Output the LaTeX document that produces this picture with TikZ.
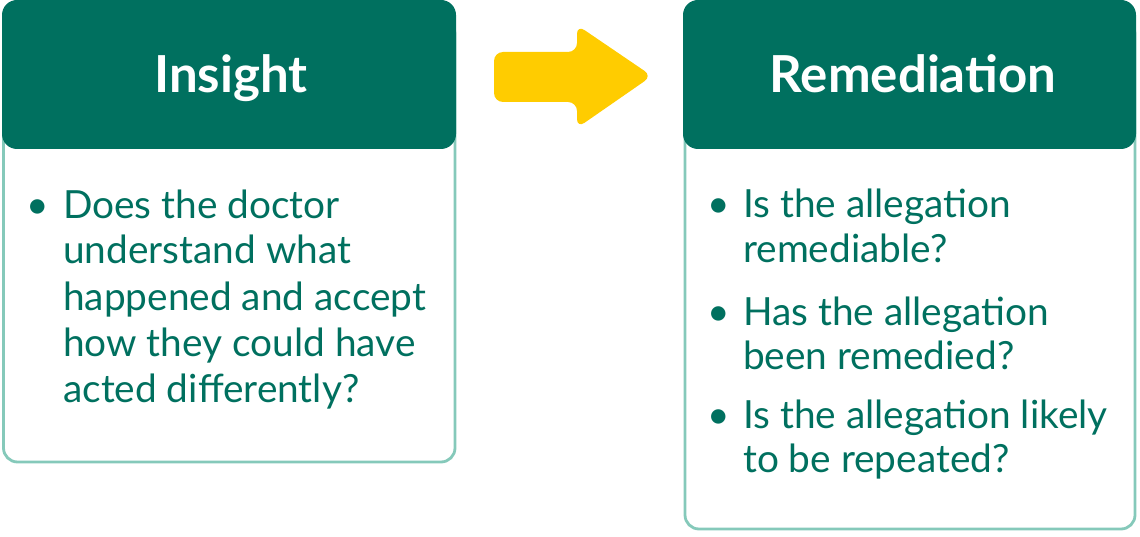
\documentclass[tikz,border=0pt]{standalone}
\usepackage{fontspec}
\setmainfont{Lato}
\definecolor{teal}{HTML}{00705F}
\definecolor{lteal}{HTML}{85C9BA}
\definecolor{amber}{HTML}{FFCC00}
\begin{document}
\begin{tikzpicture}[x=1pt,y=-1pt,
  outline/.style={draw=lteal,line width=2.8pt,rounded corners=14pt},
  header/.style={fill=teal,rounded corners=15pt},
  title/.style={text=white,font=\fontsize{51}{60}\selectfont\bfseries,inner sep=0pt,anchor=base},
  line/.style={text=teal,font=\fontsize{38.8}{46}\selectfont,inner sep=0pt,anchor=base west},
  bul/.style={text=teal,font=\fontsize{38.8}{46}\selectfont,inner sep=0pt,anchor=base}]
\useasboundingbox (0,0) rectangle (1140,537);
% left box
\draw[outline] (3.5,20) rectangle (455,462);
\fill[header] (2,0) rectangle (456,149);
\node[title] (t1) at (231,93) {Insight};
\node[bul] (b1) at (38,219) {•};
\node[line] (l11) at (63,219) {Does the doctor};
\node[line] (l12) at (63,264) {understand what};
\node[line] (l13) at (63,310) {happened and accept};
\node[line] (l14) at (63,356) {how they could have};
\node[line] (l15) at (63,402) {acted differently?};
% right box
\draw[outline] (685,20) rectangle (1135,529);
\fill[header] (683,0) rectangle (1136,149);
\node[title] (t2) at (913,93) {Remediation};
\node[bul] (b21) at (719,218) {•};
\node[line] (l21) at (743,218) {Is the allegation};
\node[line] (l22) at (743,263) {remediable?};
\node[bul] (b22) at (719,325) {•};
\node[line] (l23) at (743,325) {Has the allegation};
\node[line] (l24) at (743,369) {been remedied?};
\node[bul] (b23) at (719,428) {•};
\node[line] (l25) at (743,428) {Is the allegation likely};
\node[line] (l26) at (743,472) {to be repeated?};
% arrow
\fill[amber,rounded corners=9pt] (494,52) -- (577,52) -- (577,25) -- (652,76) -- (577,128) -- (577,102) -- (494,102) -- cycle;
\end{tikzpicture}
\end{document}
